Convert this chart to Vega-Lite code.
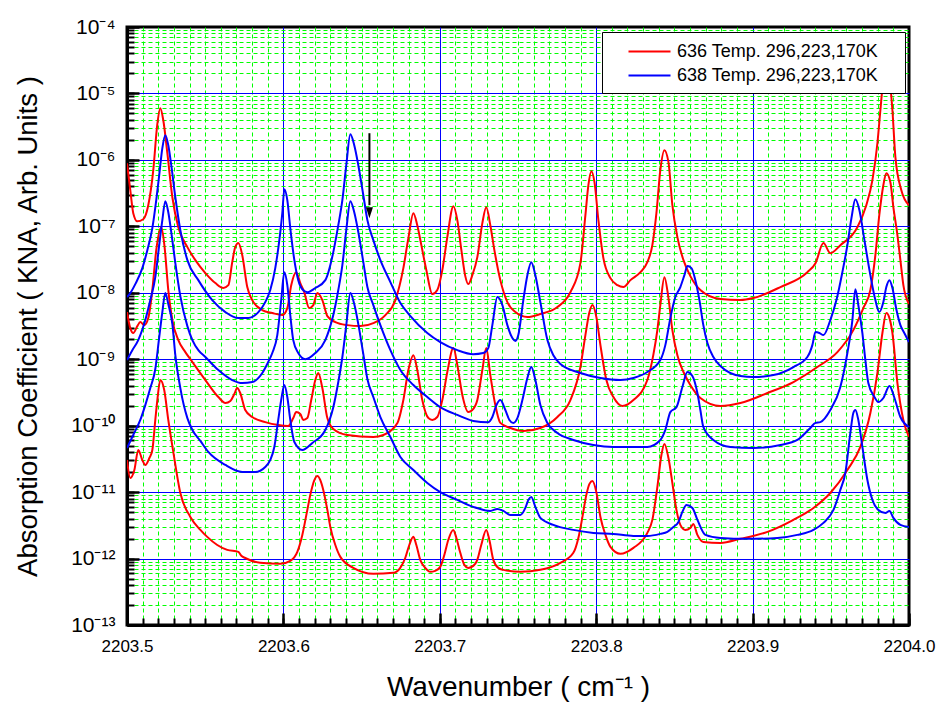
{
  "$schema": "https://vega.github.io/schema/vega-lite/v6.json",
  "width": 782,
  "height": 598,
  "autosize": "none",
  "padding": {"left": 127, "top": 27, "right": 40, "bottom": 91},
  "background": "white",
  "config": {
    "view": {"stroke": "black", "strokeWidth": 3},
    "font": "Liberation Sans"
  },
  "resolve": {"axis": {"x": "independent", "y": "independent"}},
  "layer": [
    {
      "data": {"values": [
        {"iso":"636","T":296,"x":2203.5,"y":8.9e-7},{"iso":"636","T":296,"x":2203.5021,"y":3.5e-7},{"iso":"636","T":296,"x":2203.504,"y":1.58e-7},{"iso":"636","T":296,"x":2203.5066,"y":1.19e-7},{"iso":"636","T":296,"x":2203.5104,"y":1.28e-7},{"iso":"636","T":296,"x":2203.5136,"y":2.08e-7},{"iso":"636","T":296,"x":2203.5168,"y":7.0e-7},{"iso":"636","T":296,"x":2203.5193,"y":3.32e-6},{"iso":"636","T":296,"x":2203.5213,"y":5.99e-6},{"iso":"636","T":296,"x":2203.5232,"y":3.95e-6},{"iso":"636","T":296,"x":2203.5258,"y":1.26e-6},{"iso":"636","T":296,"x":2203.529,"y":2.74e-7},{"iso":"636","T":296,"x":2203.5328,"y":9.7e-8},{"iso":"636","T":296,"x":2203.5386,"y":4.86e-8},{"iso":"636","T":296,"x":2203.5437,"y":3.1e-8},{"iso":"636","T":296,"x":2203.5501,"y":1.98e-8},{"iso":"636","T":296,"x":2203.5565,"y":1.4e-8},{"iso":"636","T":296,"x":2203.5616,"y":1.18e-8},{"iso":"636","T":296,"x":2203.5648,"y":1.3e-8},{"iso":"636","T":296,"x":2203.5673,"y":2.89e-8},{"iso":"636","T":296,"x":2203.5692,"y":4.86e-8},{"iso":"636","T":296,"x":2203.5712,"y":5.59e-8},{"iso":"636","T":296,"x":2203.5737,"y":3.68e-8},{"iso":"636","T":296,"x":2203.5769,"y":1.22e-8},{"iso":"636","T":296,"x":2203.5801,"y":7.76e-9},{"iso":"636","T":296,"x":2203.5865,"y":5.49e-9},{"iso":"636","T":296,"x":2203.5929,"y":4.95e-9},{"iso":"636","T":296,"x":2203.5993,"y":4.62e-9},{"iso":"636","T":296,"x":2203.6025,"y":5.89e-9},{"iso":"636","T":296,"x":2203.605,"y":1.3e-8},{"iso":"636","T":296,"x":2203.6082,"y":2.04e-8},{"iso":"636","T":296,"x":2203.6108,"y":1.4e-8},{"iso":"636","T":296,"x":2203.6133,"y":1.02e-8},{"iso":"636","T":296,"x":2203.6165,"y":5.89e-9},{"iso":"636","T":296,"x":2203.6191,"y":6.53e-9},{"iso":"636","T":296,"x":2203.6217,"y":9.9e-9},{"iso":"636","T":296,"x":2203.6249,"y":7.76e-9},{"iso":"636","T":296,"x":2203.6281,"y":4.46e-9},{"iso":"636","T":296,"x":2203.6332,"y":3.62e-9},{"iso":"636","T":296,"x":2203.6409,"y":3.26e-9},{"iso":"636","T":296,"x":2203.6492,"y":3.15e-9},{"iso":"636","T":296,"x":2203.6575,"y":3.5e-9},{"iso":"636","T":296,"x":2203.6652,"y":4.62e-9},{"iso":"636","T":296,"x":2203.6716,"y":7.76e-9},{"iso":"636","T":296,"x":2203.6767,"y":2.35e-8},{"iso":"636","T":296,"x":2203.6799,"y":6.64e-8},{"iso":"636","T":296,"x":2203.6831,"y":1.58e-7},{"iso":"636","T":296,"x":2203.6856,"y":1.04e-7},{"iso":"636","T":296,"x":2203.6882,"y":5.21e-8},{"iso":"636","T":296,"x":2203.6914,"y":2.19e-8},{"iso":"636","T":296,"x":2203.6952,"y":9.56e-9},{"iso":"636","T":296,"x":2203.6984,"y":1.1e-8},{"iso":"636","T":296,"x":2203.7016,"y":2.19e-8},{"iso":"636","T":296,"x":2203.7048,"y":6.88e-8},{"iso":"636","T":296,"x":2203.7087,"y":2.01e-7},{"iso":"636","T":296,"x":2203.7112,"y":1.24e-7},{"iso":"636","T":296,"x":2203.7138,"y":4.38e-8},{"iso":"636","T":296,"x":2203.7163,"y":1.78e-8},{"iso":"636","T":296,"x":2203.7182,"y":1.35e-8},{"iso":"636","T":296,"x":2203.7208,"y":1.84e-8},{"iso":"636","T":296,"x":2203.724,"y":3.44e-8},{"iso":"636","T":296,"x":2203.7272,"y":1.12e-7},{"iso":"636","T":296,"x":2203.7297,"y":1.94e-7},{"iso":"636","T":296,"x":2203.7323,"y":1.04e-7},{"iso":"636","T":296,"x":2203.7349,"y":4.38e-8},{"iso":"636","T":296,"x":2203.7387,"y":1.55e-8},{"iso":"636","T":296,"x":2203.7432,"y":7.24e-9},{"iso":"636","T":296,"x":2203.7483,"y":5.12e-9},{"iso":"636","T":296,"x":2203.756,"y":4.31e-9},{"iso":"636","T":296,"x":2203.7643,"y":4.78e-9},{"iso":"636","T":296,"x":2203.7752,"y":6.09e-9},{"iso":"636","T":296,"x":2203.7835,"y":1.02e-8},{"iso":"636","T":296,"x":2203.7899,"y":2.79e-8},{"iso":"636","T":296,"x":2203.7931,"y":1.47e-7},{"iso":"636","T":296,"x":2203.795,"y":4.16e-7},{"iso":"636","T":296,"x":2203.7969,"y":6.76e-7},{"iso":"636","T":296,"x":2203.7989,"y":4.62e-7},{"iso":"636","T":296,"x":2203.8014,"y":1.24e-7},{"iso":"636","T":296,"x":2203.8046,"y":3.32e-8},{"iso":"636","T":296,"x":2203.8091,"y":1.66e-8},{"iso":"636","T":296,"x":2203.8136,"y":1.3e-8},{"iso":"636","T":296,"x":2203.8174,"y":1.22e-8},{"iso":"636","T":296,"x":2203.8219,"y":1.55e-8},{"iso":"636","T":296,"x":2203.8283,"y":2.04e-8},{"iso":"636","T":296,"x":2203.8327,"y":2.89e-8},{"iso":"636","T":296,"x":2203.8359,"y":5.21e-8},{"iso":"636","T":296,"x":2203.8385,"y":1.58e-7},{"iso":"636","T":296,"x":2203.841,"y":7.0e-7},{"iso":"636","T":296,"x":2203.8436,"y":1.4e-6},{"iso":"636","T":296,"x":2203.8462,"y":9.23e-7},{"iso":"636","T":296,"x":2203.8487,"y":2.08e-7},{"iso":"636","T":296,"x":2203.8519,"y":6.88e-8},{"iso":"636","T":296,"x":2203.8558,"y":3.1e-8},{"iso":"636","T":296,"x":2203.8602,"y":1.78e-8},{"iso":"636","T":296,"x":2203.8666,"y":1.1e-8},{"iso":"636","T":296,"x":2203.8794,"y":8.04e-9},{"iso":"636","T":296,"x":2203.8922,"y":7.76e-9},{"iso":"636","T":296,"x":2203.9005,"y":8.32e-9},{"iso":"636","T":296,"x":2203.9178,"y":1.22e-8},{"iso":"636","T":296,"x":2203.935,"y":2.04e-8},{"iso":"636","T":296,"x":2203.9402,"y":2.79e-8},{"iso":"636","T":296,"x":2203.9453,"y":5.59e-8},{"iso":"636","T":296,"x":2203.9497,"y":3.95e-8},{"iso":"636","T":296,"x":2203.9561,"y":5.21e-8},{"iso":"636","T":296,"x":2203.967,"y":9.7e-8},{"iso":"636","T":296,"x":2203.9727,"y":2.08e-7},{"iso":"636","T":296,"x":2203.9766,"y":4.95e-7},{"iso":"636","T":296,"x":2203.9798,"y":1.78e-6},{"iso":"636","T":296,"x":2203.9817,"y":5.59e-6},{"iso":"636","T":296,"x":2203.9837,"y":1.88e-5},{"iso":"636","T":296,"x":2203.9855,"y":5.7e-5},{"iso":"636","T":296,"x":2203.9875,"y":1.88e-5},{"iso":"636","T":296,"x":2203.9894,"y":5.59e-6},{"iso":"636","T":296,"x":2203.9913,"y":1.1e-6},{"iso":"636","T":296,"x":2203.9951,"y":3.5e-7},{"iso":"636","T":296,"x":2204.0,"y":2.08e-7},

        {"iso":"636","T":223,"x":2203.5,"y":5.12e-9},{"iso":"636","T":223,"x":2203.5021,"y":2.94e-9},{"iso":"636","T":223,"x":2203.504,"y":2.48e-9},{"iso":"636","T":223,"x":2203.5066,"y":3.15e-9},{"iso":"636","T":223,"x":2203.5085,"y":3.62e-9},{"iso":"636","T":223,"x":2203.5111,"y":3.26e-9},{"iso":"636","T":223,"x":2203.5136,"y":4.16e-9},{"iso":"636","T":223,"x":2203.5162,"y":1.1e-8},{"iso":"636","T":223,"x":2203.5187,"y":4.38e-8},{"iso":"636","T":223,"x":2203.5219,"y":9.7e-8},{"iso":"636","T":223,"x":2203.5239,"y":5.21e-8},{"iso":"636","T":223,"x":2203.5264,"y":1.1e-8},{"iso":"636","T":223,"x":2203.529,"y":3.88e-9},{"iso":"636","T":223,"x":2203.5328,"y":1.94e-9},{"iso":"636","T":223,"x":2203.5373,"y":1.28e-9},{"iso":"636","T":223,"x":2203.5418,"y":9.08e-10},{"iso":"636","T":223,"x":2203.5501,"y":4.86e-10},{"iso":"636","T":223,"x":2203.5584,"y":2.7e-10},{"iso":"636","T":223,"x":2203.5629,"y":2.19e-10},{"iso":"636","T":223,"x":2203.5661,"y":2.35e-10},{"iso":"636","T":223,"x":2203.5686,"y":2.99e-10},{"iso":"636","T":223,"x":2203.5705,"y":3.68e-10},{"iso":"636","T":223,"x":2203.5724,"y":3.1e-10},{"iso":"636","T":223,"x":2203.5756,"y":1.72e-10},{"iso":"636","T":223,"x":2203.5801,"y":1.35e-10},{"iso":"636","T":223,"x":2203.5884,"y":1.13e-10},{"iso":"636","T":223,"x":2203.5967,"y":1.02e-10},{"iso":"636","T":223,"x":2203.6031,"y":9.9e-11},{"iso":"636","T":223,"x":2203.6063,"y":1.3e-10},{"iso":"636","T":223,"x":2203.6082,"y":1.6e-10},{"iso":"636","T":223,"x":2203.6108,"y":1.5e-10},{"iso":"636","T":223,"x":2203.6127,"y":1.22e-10},{"iso":"636","T":223,"x":2203.6153,"y":1.3e-10},{"iso":"636","T":223,"x":2203.6178,"y":2.43e-10},{"iso":"636","T":223,"x":2203.6204,"y":4.86e-10},{"iso":"636","T":223,"x":2203.6223,"y":6.2e-10},{"iso":"636","T":223,"x":2203.6249,"y":3.68e-10},{"iso":"636","T":223,"x":2203.6281,"y":1.3e-10},{"iso":"636","T":223,"x":2203.6319,"y":8.9e-11},{"iso":"636","T":223,"x":2203.6409,"y":7.24e-11},{"iso":"636","T":223,"x":2203.6575,"y":6.76e-11},{"iso":"636","T":223,"x":2203.6639,"y":7.24e-11},{"iso":"636","T":223,"x":2203.6729,"y":1.1e-10},{"iso":"636","T":223,"x":2203.6767,"y":2.43e-10},{"iso":"636","T":223,"x":2203.6799,"y":6.88e-10},{"iso":"636","T":223,"x":2203.6831,"y":1.15e-9},{"iso":"636","T":223,"x":2203.6856,"y":6.88e-10},{"iso":"636","T":223,"x":2203.6888,"y":2.43e-10},{"iso":"636","T":223,"x":2203.6927,"y":1.3e-10},{"iso":"636","T":223,"x":2203.6952,"y":1.22e-10},{"iso":"636","T":223,"x":2203.6984,"y":1.35e-10},{"iso":"636","T":223,"x":2203.7016,"y":2.43e-10},{"iso":"636","T":223,"x":2203.7048,"y":6.42e-10},{"iso":"636","T":223,"x":2203.7087,"y":1.47e-9},{"iso":"636","T":223,"x":2203.7112,"y":8.18e-10},{"iso":"636","T":223,"x":2203.7144,"y":2.89e-10},{"iso":"636","T":223,"x":2203.7182,"y":1.6e-10},{"iso":"636","T":223,"x":2203.7208,"y":1.72e-10},{"iso":"636","T":223,"x":2203.724,"y":2.43e-10},{"iso":"636","T":223,"x":2203.7272,"y":6.88e-10},{"iso":"636","T":223,"x":2203.7297,"y":1.47e-9},{"iso":"636","T":223,"x":2203.7323,"y":5.78e-10},{"iso":"636","T":223,"x":2203.7355,"y":2.04e-10},{"iso":"636","T":223,"x":2203.7387,"y":1.1e-10},{"iso":"636","T":223,"x":2203.7451,"y":9.23e-11},{"iso":"636","T":223,"x":2203.7534,"y":8.32e-11},{"iso":"636","T":223,"x":2203.7643,"y":9.23e-11},{"iso":"636","T":223,"x":2203.7752,"y":1.35e-10},{"iso":"636","T":223,"x":2203.7835,"y":2.43e-10},{"iso":"636","T":223,"x":2203.7899,"y":7.63e-10},{"iso":"636","T":223,"x":2203.7931,"y":2.31e-9},{"iso":"636","T":223,"x":2203.7957,"y":5.12e-9},{"iso":"636","T":223,"x":2203.7976,"y":6.53e-9},{"iso":"636","T":223,"x":2203.8001,"y":4.31e-9},{"iso":"636","T":223,"x":2203.8027,"y":1.63e-9},{"iso":"636","T":223,"x":2203.8065,"y":4.86e-10},{"iso":"636","T":223,"x":2203.811,"y":2.7e-10},{"iso":"636","T":223,"x":2203.8168,"y":1.98e-10},{"iso":"636","T":223,"x":2203.8238,"y":2.43e-10},{"iso":"636","T":223,"x":2203.8327,"y":4.86e-10},{"iso":"636","T":223,"x":2203.8365,"y":1.15e-9},{"iso":"636","T":223,"x":2203.8391,"y":2.74e-9},{"iso":"636","T":223,"x":2203.841,"y":6.53e-9},{"iso":"636","T":223,"x":2203.8436,"y":1.72e-8},{"iso":"636","T":223,"x":2203.8462,"y":8.32e-9},{"iso":"636","T":223,"x":2203.8487,"y":2.74e-9},{"iso":"636","T":223,"x":2203.8519,"y":1.15e-9},{"iso":"636","T":223,"x":2203.8558,"y":6.42e-10},{"iso":"636","T":223,"x":2203.8602,"y":4.09e-10},{"iso":"636","T":223,"x":2203.8666,"y":2.61e-10},{"iso":"636","T":223,"x":2203.8794,"y":1.98e-10},{"iso":"636","T":223,"x":2203.8922,"y":2.19e-10},{"iso":"636","T":223,"x":2203.9095,"y":3.1e-10},{"iso":"636","T":223,"x":2203.9261,"y":4.54e-10},{"iso":"636","T":223,"x":2203.9414,"y":7.63e-10},{"iso":"636","T":223,"x":2203.9542,"y":1.28e-9},{"iso":"636","T":223,"x":2203.9644,"y":2.74e-9},{"iso":"636","T":223,"x":2203.9708,"y":5.89e-9},{"iso":"636","T":223,"x":2203.9753,"y":1.1e-8},{"iso":"636","T":223,"x":2203.9785,"y":3.68e-8},{"iso":"636","T":223,"x":2203.981,"y":1.47e-7},{"iso":"636","T":223,"x":2203.9836,"y":4.16e-7},{"iso":"636","T":223,"x":2203.9855,"y":6.31e-7},{"iso":"636","T":223,"x":2203.9881,"y":4.62e-7},{"iso":"636","T":223,"x":2203.99,"y":1.94e-7},{"iso":"636","T":223,"x":2203.9926,"y":7.37e-8},{"iso":"636","T":223,"x":2203.9945,"y":3.1e-8},{"iso":"636","T":223,"x":2203.9964,"y":1.3e-8},{"iso":"636","T":223,"x":2204.0,"y":6.76e-9},

        {"iso":"636","T":170,"x":2203.5,"y":3.05e-11},{"iso":"636","T":170,"x":2203.5021,"y":1.63e-11},{"iso":"636","T":170,"x":2203.5047,"y":2.15e-11},{"iso":"636","T":170,"x":2203.5072,"y":4.31e-11},{"iso":"636","T":170,"x":2203.5098,"y":3.05e-11},{"iso":"636","T":170,"x":2203.5117,"y":2.56e-11},{"iso":"636","T":170,"x":2203.5143,"y":3.26e-11},{"iso":"636","T":170,"x":2203.5162,"y":4.31e-11},{"iso":"636","T":170,"x":2203.5181,"y":1.22e-10},{"iso":"636","T":170,"x":2203.5194,"y":2.43e-10},{"iso":"636","T":170,"x":2203.5213,"y":4.86e-10},{"iso":"636","T":170,"x":2203.5238,"y":3.44e-10},{"iso":"636","T":170,"x":2203.5264,"y":1.22e-10},{"iso":"636","T":170,"x":2203.5296,"y":4.02e-11},{"iso":"636","T":170,"x":2203.5341,"y":9.7e-12},{"iso":"636","T":170,"x":2203.5405,"y":4.23e-12},{"iso":"636","T":170,"x":2203.5469,"y":2.7e-12},{"iso":"636","T":170,"x":2203.5513,"y":2.12e-12},{"iso":"636","T":170,"x":2203.5577,"y":1.6e-12},{"iso":"636","T":170,"x":2203.5641,"y":1.35e-12},{"iso":"636","T":170,"x":2203.5712,"y":1.26e-12},{"iso":"636","T":170,"x":2203.5731,"y":1.1e-12},{"iso":"636","T":170,"x":2203.5756,"y":1.02e-12},{"iso":"636","T":170,"x":2203.5852,"y":8.62e-13},{"iso":"636","T":170,"x":2203.598,"y":8.32e-13},{"iso":"636","T":170,"x":2203.6044,"y":9.23e-13},{"iso":"636","T":170,"x":2203.6089,"y":1.26e-12},{"iso":"636","T":170,"x":2203.6121,"y":2.27e-12},{"iso":"636","T":170,"x":2203.6153,"y":5.4e-12},{"iso":"636","T":170,"x":2203.6172,"y":9.08e-12},{"iso":"636","T":170,"x":2203.6198,"y":1.52e-11},{"iso":"636","T":170,"x":2203.6217,"y":1.75e-11},{"iso":"636","T":170,"x":2203.6236,"y":1.52e-11},{"iso":"636","T":170,"x":2203.6255,"y":1.08e-11},{"iso":"636","T":170,"x":2203.6281,"y":5.4e-12},{"iso":"636","T":170,"x":2203.63,"y":2.99e-12},{"iso":"636","T":170,"x":2203.6332,"y":1.6e-12},{"iso":"636","T":170,"x":2203.6364,"y":1.06e-12},{"iso":"636","T":170,"x":2203.6447,"y":7.24e-13},{"iso":"636","T":170,"x":2203.6575,"y":5.89e-13},{"iso":"636","T":170,"x":2203.6703,"y":6.09e-13},{"iso":"636","T":170,"x":2203.6747,"y":7.24e-13},{"iso":"636","T":170,"x":2203.6779,"y":1.02e-12},{"iso":"636","T":170,"x":2203.6805,"y":1.6e-12},{"iso":"636","T":170,"x":2203.6831,"y":2.12e-12},{"iso":"636","T":170,"x":2203.685,"y":1.6e-12},{"iso":"636","T":170,"x":2203.6875,"y":9.56e-13},{"iso":"636","T":170,"x":2203.6907,"y":7.24e-13},{"iso":"636","T":170,"x":2203.6939,"y":6.31e-13},{"iso":"636","T":170,"x":2203.6971,"y":6.53e-13},{"iso":"636","T":170,"x":2203.7003,"y":7.5e-13},{"iso":"636","T":170,"x":2203.7029,"y":1.13e-12},{"iso":"636","T":170,"x":2203.7054,"y":1.9e-12},{"iso":"636","T":170,"x":2203.7086,"y":2.7e-12},{"iso":"636","T":170,"x":2203.7106,"y":2.04e-12},{"iso":"636","T":170,"x":2203.7131,"y":1.22e-12},{"iso":"636","T":170,"x":2203.7157,"y":8.04e-13},{"iso":"636","T":170,"x":2203.7182,"y":7.24e-13},{"iso":"636","T":170,"x":2203.7214,"y":7.76e-13},{"iso":"636","T":170,"x":2203.724,"y":9.56e-13},{"iso":"636","T":170,"x":2203.7265,"y":1.6e-12},{"iso":"636","T":170,"x":2203.7297,"y":2.7e-12},{"iso":"636","T":170,"x":2203.7317,"y":1.9e-12},{"iso":"636","T":170,"x":2203.7342,"y":9.56e-13},{"iso":"636","T":170,"x":2203.7374,"y":7.24e-13},{"iso":"636","T":170,"x":2203.7406,"y":6.76e-13},{"iso":"636","T":170,"x":2203.7515,"y":6.31e-13},{"iso":"636","T":170,"x":2203.7643,"y":6.76e-13},{"iso":"636","T":170,"x":2203.7771,"y":8.62e-13},{"iso":"636","T":170,"x":2203.7854,"y":1.22e-12},{"iso":"636","T":170,"x":2203.7886,"y":2.04e-12},{"iso":"636","T":170,"x":2203.7912,"y":4.23e-12},{"iso":"636","T":170,"x":2203.7937,"y":9.08e-12},{"iso":"636","T":170,"x":2203.7957,"y":1.33e-11},{"iso":"636","T":170,"x":2203.7976,"y":1.47e-11},{"iso":"636","T":170,"x":2203.8001,"y":1.0e-11},{"iso":"636","T":170,"x":2203.8027,"y":4.23e-12},{"iso":"636","T":170,"x":2203.8059,"y":2.27e-12},{"iso":"636","T":170,"x":2203.8091,"y":1.5e-12},{"iso":"636","T":170,"x":2203.8155,"y":1.18e-12},{"iso":"636","T":170,"x":2203.8238,"y":1.45e-12},{"iso":"636","T":170,"x":2203.8327,"y":2.43e-12},{"iso":"636","T":170,"x":2203.8359,"y":3.82e-12},{"iso":"636","T":170,"x":2203.8391,"y":1.19e-11},{"iso":"636","T":170,"x":2203.8417,"y":3.62e-11},{"iso":"636","T":170,"x":2203.8436,"y":5.3e-11},{"iso":"636","T":170,"x":2203.8462,"y":3.26e-11},{"iso":"636","T":170,"x":2203.8487,"y":1.37e-11},{"iso":"636","T":170,"x":2203.8513,"y":5.4e-12},{"iso":"636","T":170,"x":2203.8538,"y":3.21e-12},{"iso":"636","T":170,"x":2203.857,"y":2.7e-12},{"iso":"636","T":170,"x":2203.8602,"y":2.89e-12},{"iso":"636","T":170,"x":2203.8621,"y":3.32e-12},{"iso":"636","T":170,"x":2203.8647,"y":2.27e-12},{"iso":"636","T":170,"x":2203.8685,"y":1.78e-12},{"iso":"636","T":170,"x":2203.8794,"y":1.72e-12},{"iso":"636","T":170,"x":2203.8922,"y":1.98e-12},{"iso":"636","T":170,"x":2203.9095,"y":2.52e-12},{"iso":"636","T":170,"x":2203.9261,"y":3.82e-12},{"iso":"636","T":170,"x":2203.9389,"y":5.78e-12},{"iso":"636","T":170,"x":2203.9497,"y":9.7e-12},{"iso":"636","T":170,"x":2203.9606,"y":2.15e-11},{"iso":"636","T":170,"x":2203.9689,"y":4.78e-11},{"iso":"636","T":170,"x":2203.9753,"y":1.55e-10},{"iso":"636","T":170,"x":2203.9798,"y":6.2e-10},{"iso":"636","T":170,"x":2203.983,"y":2.48e-9},{"iso":"636","T":170,"x":2203.9855,"y":4.95e-9},{"iso":"636","T":170,"x":2203.9875,"y":4.16e-9},{"iso":"636","T":170,"x":2203.9894,"y":2.48e-9},{"iso":"636","T":170,"x":2203.9926,"y":4.38e-10},{"iso":"636","T":170,"x":2203.9964,"y":1.22e-10},{"iso":"636","T":170,"x":2204.0,"y":6.76e-11},

        {"iso":"638","T":296,"x":2203.5,"y":8.62e-9},{"iso":"638","T":296,"x":2203.5021,"y":9.9e-9},{"iso":"638","T":296,"x":2203.5053,"y":1.35e-8},{"iso":"638","T":296,"x":2203.5098,"y":2.35e-8},{"iso":"638","T":296,"x":2203.513,"y":4.38e-8},{"iso":"638","T":296,"x":2203.5162,"y":9.4e-8},{"iso":"638","T":296,"x":2203.5187,"y":2.48e-7},{"iso":"638","T":296,"x":2203.5206,"y":5.89e-7},{"iso":"638","T":296,"x":2203.5226,"y":1.5e-6},{"iso":"638","T":296,"x":2203.5245,"y":2.35e-6},{"iso":"638","T":296,"x":2203.5264,"y":1.66e-6},{"iso":"638","T":296,"x":2203.5283,"y":8.32e-7},{"iso":"638","T":296,"x":2203.5309,"y":2.74e-7},{"iso":"638","T":296,"x":2203.5341,"y":8.77e-8},{"iso":"638","T":296,"x":2203.5386,"y":3.1e-8},{"iso":"638","T":296,"x":2203.5456,"y":1.55e-8},{"iso":"638","T":296,"x":2203.5545,"y":7.76e-9},{"iso":"638","T":296,"x":2203.5629,"y":5.12e-9},{"iso":"638","T":296,"x":2203.5712,"y":4.16e-9},{"iso":"638","T":296,"x":2203.5776,"y":4.16e-9},{"iso":"638","T":296,"x":2203.584,"y":5.12e-9},{"iso":"638","T":296,"x":2203.5884,"y":7.24e-9},{"iso":"638","T":296,"x":2203.5916,"y":1.1e-8},{"iso":"638","T":296,"x":2203.5948,"y":2.35e-8},{"iso":"638","T":296,"x":2203.5974,"y":6.2e-8},{"iso":"638","T":296,"x":2203.5993,"y":1.58e-7},{"iso":"638","T":296,"x":2203.6006,"y":3.62e-7},{"iso":"638","T":296,"x":2203.6025,"y":2.48e-7},{"iso":"638","T":296,"x":2203.6044,"y":9.4e-8},{"iso":"638","T":296,"x":2203.607,"y":3.1e-8},{"iso":"638","T":296,"x":2203.6095,"y":1.55e-8},{"iso":"638","T":296,"x":2203.6121,"y":1.13e-8},{"iso":"638","T":296,"x":2203.6153,"y":1.02e-8},{"iso":"638","T":296,"x":2203.6204,"y":1.18e-8},{"iso":"638","T":296,"x":2203.6268,"y":1.55e-8},{"iso":"638","T":296,"x":2203.6319,"y":4.09e-8},{"iso":"638","T":296,"x":2203.6351,"y":1.04e-7},{"iso":"638","T":296,"x":2203.6377,"y":2.48e-7},{"iso":"638","T":296,"x":2203.6402,"y":8.32e-7},{"iso":"638","T":296,"x":2203.6428,"y":2.43e-6},{"iso":"638","T":296,"x":2203.6453,"y":1.66e-6},{"iso":"638","T":296,"x":2203.6479,"y":8.32e-7},{"iso":"638","T":296,"x":2203.6511,"y":2.94e-7},{"iso":"638","T":296,"x":2203.6537,"y":1.24e-7},{"iso":"638","T":296,"x":2203.6575,"y":6.2e-8},{"iso":"638","T":296,"x":2203.662,"y":3.1e-8},{"iso":"638","T":296,"x":2203.6684,"y":1.45e-8},{"iso":"638","T":296,"x":2203.6748,"y":7.0e-9},{"iso":"638","T":296,"x":2203.6812,"y":4.46e-9},{"iso":"638","T":296,"x":2203.692,"y":2.48e-9},{"iso":"638","T":296,"x":2203.7003,"y":1.81e-9},{"iso":"638","T":296,"x":2203.7112,"y":1.37e-9},{"iso":"638","T":296,"x":2203.7214,"y":1.19e-9},{"iso":"638","T":296,"x":2203.7278,"y":1.24e-9},{"iso":"638","T":296,"x":2203.731,"y":1.47e-9},{"iso":"638","T":296,"x":2203.7336,"y":3.26e-9},{"iso":"638","T":296,"x":2203.7368,"y":8.62e-9},{"iso":"638","T":296,"x":2203.74,"y":6.53e-9},{"iso":"638","T":296,"x":2203.7432,"y":3.26e-9},{"iso":"638","T":296,"x":2203.7464,"y":2.08e-9},{"iso":"638","T":296,"x":2203.7483,"y":1.88e-9},{"iso":"638","T":296,"x":2203.7502,"y":2.31e-9},{"iso":"638","T":296,"x":2203.7534,"y":7.76e-9},{"iso":"638","T":296,"x":2203.756,"y":1.84e-8},{"iso":"638","T":296,"x":2203.7585,"y":2.89e-8},{"iso":"638","T":296,"x":2203.7611,"y":1.84e-8},{"iso":"638","T":296,"x":2203.7643,"y":7.24e-9},{"iso":"638","T":296,"x":2203.7688,"y":1.94e-9},{"iso":"638","T":296,"x":2203.7726,"y":1.15e-9},{"iso":"638","T":296,"x":2203.7771,"y":8.47e-10},{"iso":"638","T":296,"x":2203.7899,"y":6.2e-10},{"iso":"638","T":296,"x":2203.8027,"y":5.21e-10},{"iso":"638","T":296,"x":2203.8155,"y":4.86e-10},{"iso":"638","T":296,"x":2203.8238,"y":5.21e-10},{"iso":"638","T":296,"x":2203.8327,"y":6.42e-10},{"iso":"638","T":296,"x":2203.841,"y":9.7e-10},{"iso":"638","T":296,"x":2203.8442,"y":1.63e-9},{"iso":"638","T":296,"x":2203.8474,"y":4.16e-9},{"iso":"638","T":296,"x":2203.8506,"y":8.62e-9},{"iso":"638","T":296,"x":2203.8538,"y":1.22e-8},{"iso":"638","T":296,"x":2203.8564,"y":1.84e-8},{"iso":"638","T":296,"x":2203.8583,"y":2.52e-8},{"iso":"638","T":296,"x":2203.8609,"y":2.35e-8},{"iso":"638","T":296,"x":2203.8634,"y":1.55e-8},{"iso":"638","T":296,"x":2203.866,"y":7.76e-9},{"iso":"638","T":296,"x":2203.8685,"y":3.26e-9},{"iso":"638","T":296,"x":2203.8711,"y":1.75e-9},{"iso":"638","T":296,"x":2203.8749,"y":1.08e-9},{"iso":"638","T":296,"x":2203.8794,"y":7.9e-10},{"iso":"638","T":296,"x":2203.8922,"y":5.59e-10},{"iso":"638","T":296,"x":2203.9005,"y":5.4e-10},{"iso":"638","T":296,"x":2203.9133,"y":5.78e-10},{"iso":"638","T":296,"x":2203.9261,"y":7.63e-10},{"iso":"638","T":296,"x":2203.935,"y":1.08e-9},{"iso":"638","T":296,"x":2203.9382,"y":1.63e-9},{"iso":"638","T":296,"x":2203.9402,"y":2.56e-9},{"iso":"638","T":296,"x":2203.9427,"y":2.48e-9},{"iso":"638","T":296,"x":2203.9453,"y":2.31e-9},{"iso":"638","T":296,"x":2203.9497,"y":3.88e-9},{"iso":"638","T":296,"x":2203.9536,"y":7.76e-9},{"iso":"638","T":296,"x":2203.9574,"y":2.04e-8},{"iso":"638","T":296,"x":2203.9606,"y":5.21e-8},{"iso":"638","T":296,"x":2203.9632,"y":1.33e-7},{"iso":"638","T":296,"x":2203.9657,"y":2.56e-7},{"iso":"638","T":296,"x":2203.9683,"y":1.75e-7},{"iso":"638","T":296,"x":2203.9715,"y":6.2e-8},{"iso":"638","T":296,"x":2203.9753,"y":1.84e-8},{"iso":"638","T":296,"x":2203.9785,"y":7.76e-9},{"iso":"638","T":296,"x":2203.981,"y":5.12e-9},{"iso":"638","T":296,"x":2203.9836,"y":7.24e-9},{"iso":"638","T":296,"x":2203.9855,"y":1.22e-8},{"iso":"638","T":296,"x":2203.9875,"y":1.55e-8},{"iso":"638","T":296,"x":2203.9894,"y":1.18e-8},{"iso":"638","T":296,"x":2203.992,"y":5.49e-9},{"iso":"638","T":296,"x":2203.9945,"y":3.26e-9},{"iso":"638","T":296,"x":2203.997,"y":2.48e-9},{"iso":"638","T":296,"x":2204.0,"y":1.81e-9},

        {"iso":"638","T":223,"x":2203.5,"y":9.7e-10},{"iso":"638","T":223,"x":2203.5034,"y":1.37e-9},{"iso":"638","T":223,"x":2203.5072,"y":1.94e-9},{"iso":"638","T":223,"x":2203.5117,"y":3.88e-9},{"iso":"638","T":223,"x":2203.5149,"y":7.76e-9},{"iso":"638","T":223,"x":2203.5181,"y":1.72e-8},{"iso":"638","T":223,"x":2203.5206,"y":5.21e-8},{"iso":"638","T":223,"x":2203.5226,"y":1.24e-7},{"iso":"638","T":223,"x":2203.5245,"y":2.39e-7},{"iso":"638","T":223,"x":2203.5264,"y":1.63e-7},{"iso":"638","T":223,"x":2203.5283,"y":8.18e-8},{"iso":"638","T":223,"x":2203.5309,"y":2.79e-8},{"iso":"638","T":223,"x":2203.5341,"y":8.9e-9},{"iso":"638","T":223,"x":2203.5386,"y":3.15e-9},{"iso":"638","T":223,"x":2203.5418,"y":1.94e-9},{"iso":"638","T":223,"x":2203.5456,"y":1.37e-9},{"iso":"638","T":223,"x":2203.5501,"y":1.08e-9},{"iso":"638","T":223,"x":2203.5584,"y":6.88e-10},{"iso":"638","T":223,"x":2203.5673,"y":4.86e-10},{"iso":"638","T":223,"x":2203.5737,"y":4.38e-10},{"iso":"638","T":223,"x":2203.5801,"y":4.54e-10},{"iso":"638","T":223,"x":2203.5865,"y":6.2e-10},{"iso":"638","T":223,"x":2203.5903,"y":9.08e-10},{"iso":"638","T":223,"x":2203.5929,"y":1.24e-9},{"iso":"638","T":223,"x":2203.5961,"y":2.31e-9},{"iso":"638","T":223,"x":2203.5986,"y":7.76e-9},{"iso":"638","T":223,"x":2203.6006,"y":2.04e-8},{"iso":"638","T":223,"x":2203.6025,"y":1.3e-8},{"iso":"638","T":223,"x":2203.6044,"y":4.62e-9},{"iso":"638","T":223,"x":2203.6063,"y":1.94e-9},{"iso":"638","T":223,"x":2203.6095,"y":1.24e-9},{"iso":"638","T":223,"x":2203.614,"y":1.0e-9},{"iso":"638","T":223,"x":2203.6204,"y":1.24e-9},{"iso":"638","T":223,"x":2203.6268,"y":1.94e-9},{"iso":"638","T":223,"x":2203.6319,"y":4.62e-9},{"iso":"638","T":223,"x":2203.6351,"y":1.1e-8},{"iso":"638","T":223,"x":2203.6377,"y":2.61e-8},{"iso":"638","T":223,"x":2203.6402,"y":8.77e-8},{"iso":"638","T":223,"x":2203.6428,"y":2.39e-7},{"iso":"638","T":223,"x":2203.6453,"y":1.63e-7},{"iso":"638","T":223,"x":2203.6479,"y":8.18e-8},{"iso":"638","T":223,"x":2203.6511,"y":2.89e-8},{"iso":"638","T":223,"x":2203.6537,"y":1.22e-8},{"iso":"638","T":223,"x":2203.6575,"y":6.53e-9},{"iso":"638","T":223,"x":2203.662,"y":3.26e-9},{"iso":"638","T":223,"x":2203.6684,"y":1.37e-9},{"iso":"638","T":223,"x":2203.6748,"y":6.88e-10},{"iso":"638","T":223,"x":2203.6831,"y":4.09e-10},{"iso":"638","T":223,"x":2203.692,"y":2.7e-10},{"iso":"638","T":223,"x":2203.7003,"y":1.9e-10},{"iso":"638","T":223,"x":2203.7112,"y":1.45e-10},{"iso":"638","T":223,"x":2203.7214,"y":1.18e-10},{"iso":"638","T":223,"x":2203.731,"y":1.13e-10},{"iso":"638","T":223,"x":2203.7336,"y":1.35e-10},{"iso":"638","T":223,"x":2203.7362,"y":2.04e-10},{"iso":"638","T":223,"x":2203.7387,"y":2.43e-10},{"iso":"638","T":223,"x":2203.7419,"y":1.72e-10},{"iso":"638","T":223,"x":2203.7445,"y":1.22e-10},{"iso":"638","T":223,"x":2203.747,"y":1.1e-10},{"iso":"638","T":223,"x":2203.7496,"y":1.3e-10},{"iso":"638","T":223,"x":2203.7528,"y":2.43e-10},{"iso":"638","T":223,"x":2203.756,"y":5.21e-10},{"iso":"638","T":223,"x":2203.7585,"y":7.63e-10},{"iso":"638","T":223,"x":2203.7611,"y":4.86e-10},{"iso":"638","T":223,"x":2203.7643,"y":2.04e-10},{"iso":"638","T":223,"x":2203.7688,"y":1.1e-10},{"iso":"638","T":223,"x":2203.7752,"y":7.76e-11},{"iso":"638","T":223,"x":2203.7854,"y":6.09e-11},{"iso":"638","T":223,"x":2203.7982,"y":5.12e-11},{"iso":"638","T":223,"x":2203.811,"y":4.78e-11},{"iso":"638","T":223,"x":2203.8238,"y":4.78e-11},{"iso":"638","T":223,"x":2203.8327,"y":4.78e-11},{"iso":"638","T":223,"x":2203.841,"y":6.09e-11},{"iso":"638","T":223,"x":2203.8442,"y":8.62e-11},{"iso":"638","T":223,"x":2203.8474,"y":1.6e-10},{"iso":"638","T":223,"x":2203.8513,"y":1.9e-10},{"iso":"638","T":223,"x":2203.8551,"y":3.82e-10},{"iso":"638","T":223,"x":2203.8583,"y":6.42e-10},{"iso":"638","T":223,"x":2203.8615,"y":5.59e-10},{"iso":"638","T":223,"x":2203.8647,"y":3.1e-10},{"iso":"638","T":223,"x":2203.8666,"y":1.72e-10},{"iso":"638","T":223,"x":2203.8685,"y":9.56e-11},{"iso":"638","T":223,"x":2203.8749,"y":6.09e-11},{"iso":"638","T":223,"x":2203.8858,"y":4.78e-11},{"iso":"638","T":223,"x":2203.9005,"y":4.62e-11},{"iso":"638","T":223,"x":2203.9178,"y":5.12e-11},{"iso":"638","T":223,"x":2203.9286,"y":6.09e-11},{"iso":"638","T":223,"x":2203.9369,"y":9.23e-11},{"iso":"638","T":223,"x":2203.9402,"y":1.1e-10},{"iso":"638","T":223,"x":2203.9433,"y":1.13e-10},{"iso":"638","T":223,"x":2203.9497,"y":1.72e-10},{"iso":"638","T":223,"x":2203.9561,"y":3.82e-10},{"iso":"638","T":223,"x":2203.9606,"y":1.24e-9},{"iso":"638","T":223,"x":2203.9638,"y":3.88e-9},{"iso":"638","T":223,"x":2203.9657,"y":1.13e-8},{"iso":"638","T":223,"x":2203.9676,"y":6.53e-9},{"iso":"638","T":223,"x":2203.9702,"y":2.48e-9},{"iso":"638","T":223,"x":2203.9721,"y":9.7e-10},{"iso":"638","T":223,"x":2203.974,"y":4.38e-10},{"iso":"638","T":223,"x":2203.9779,"y":2.7e-10},{"iso":"638","T":223,"x":2203.9804,"y":2.27e-10},{"iso":"638","T":223,"x":2203.9836,"y":2.61e-10},{"iso":"638","T":223,"x":2203.9875,"y":3.95e-10},{"iso":"638","T":223,"x":2203.9907,"y":2.61e-10},{"iso":"638","T":223,"x":2203.9945,"y":1.35e-10},{"iso":"638","T":223,"x":2204.0,"y":9.56e-11},

        {"iso":"638","T":170,"x":2203.5,"y":4.62e-11},{"iso":"638","T":170,"x":2203.504,"y":7.24e-11},{"iso":"638","T":170,"x":2203.5085,"y":1.22e-10},{"iso":"638","T":170,"x":2203.5117,"y":2.04e-10},{"iso":"638","T":170,"x":2203.5149,"y":3.68e-10},{"iso":"638","T":170,"x":2203.5181,"y":7.12e-10},{"iso":"638","T":170,"x":2203.5206,"y":2.15e-9},{"iso":"638","T":170,"x":2203.5226,"y":5.12e-9},{"iso":"638","T":170,"x":2203.5245,"y":9.9e-9},{"iso":"638","T":170,"x":2203.5264,"y":6.76e-9},{"iso":"638","T":170,"x":2203.529,"y":3.38e-9},{"iso":"638","T":170,"x":2203.5309,"y":1.15e-9},{"iso":"638","T":170,"x":2203.5341,"y":3.68e-10},{"iso":"638","T":170,"x":2203.5386,"y":1.3e-10},{"iso":"638","T":170,"x":2203.5418,"y":8.62e-11},{"iso":"638","T":170,"x":2203.5469,"y":5.89e-11},{"iso":"638","T":170,"x":2203.552,"y":4.02e-11},{"iso":"638","T":170,"x":2203.5629,"y":2.56e-11},{"iso":"638","T":170,"x":2203.5737,"y":2.01e-11},{"iso":"638","T":170,"x":2203.582,"y":2.01e-11},{"iso":"638","T":170,"x":2203.5884,"y":2.39e-11},{"iso":"638","T":170,"x":2203.5916,"y":3.05e-11},{"iso":"638","T":170,"x":2203.5942,"y":4.78e-11},{"iso":"638","T":170,"x":2203.5967,"y":1.22e-10},{"iso":"638","T":170,"x":2203.5986,"y":2.43e-10},{"iso":"638","T":170,"x":2203.6006,"y":4.09e-10},{"iso":"638","T":170,"x":2203.6025,"y":2.7e-10},{"iso":"638","T":170,"x":2203.6044,"y":1.22e-10},{"iso":"638","T":170,"x":2203.607,"y":5.68e-11},{"iso":"638","T":170,"x":2203.6121,"y":4.31e-11},{"iso":"638","T":170,"x":2203.6185,"y":5.49e-11},{"iso":"638","T":170,"x":2203.6268,"y":8.62e-11},{"iso":"638","T":170,"x":2203.6319,"y":1.9e-10},{"iso":"638","T":170,"x":2203.6351,"y":4.54e-10},{"iso":"638","T":170,"x":2203.6377,"y":1.08e-9},{"iso":"638","T":170,"x":2203.6402,"y":3.26e-9},{"iso":"638","T":170,"x":2203.6428,"y":9.9e-9},{"iso":"638","T":170,"x":2203.6453,"y":6.76e-9},{"iso":"638","T":170,"x":2203.6479,"y":3.38e-9},{"iso":"638","T":170,"x":2203.6511,"y":1.19e-9},{"iso":"638","T":170,"x":2203.6537,"y":5.03e-10},{"iso":"638","T":170,"x":2203.6575,"y":2.7e-10},{"iso":"638","T":170,"x":2203.662,"y":1.35e-10},{"iso":"638","T":170,"x":2203.6684,"y":6.76e-11},{"iso":"638","T":170,"x":2203.6748,"y":3.38e-11},{"iso":"638","T":170,"x":2203.6831,"y":2.15e-11},{"iso":"638","T":170,"x":2203.692,"y":1.37e-11},{"iso":"638","T":170,"x":2203.7003,"y":1.0e-11},{"iso":"638","T":170,"x":2203.7112,"y":7.63e-12},{"iso":"638","T":170,"x":2203.7214,"y":5.99e-12},{"iso":"638","T":170,"x":2203.7323,"y":5.21e-12},{"iso":"638","T":170,"x":2203.7368,"y":5.59e-12},{"iso":"638","T":170,"x":2203.7406,"y":5.21e-12},{"iso":"638","T":170,"x":2203.7451,"y":4.54e-12},{"iso":"638","T":170,"x":2203.7515,"y":4.54e-12},{"iso":"638","T":170,"x":2203.7547,"y":5.78e-12},{"iso":"638","T":170,"x":2203.7566,"y":7.63e-12},{"iso":"638","T":170,"x":2203.7585,"y":8.47e-12},{"iso":"638","T":170,"x":2203.7611,"y":5.99e-12},{"iso":"638","T":170,"x":2203.7643,"y":4.09e-12},{"iso":"638","T":170,"x":2203.7726,"y":3.21e-12},{"iso":"638","T":170,"x":2203.7854,"y":2.7e-12},{"iso":"638","T":170,"x":2203.7982,"y":2.43e-12},{"iso":"638","T":170,"x":2203.811,"y":2.35e-12},{"iso":"638","T":170,"x":2203.8238,"y":2.19e-12},{"iso":"638","T":170,"x":2203.8327,"y":2.19e-12},{"iso":"638","T":170,"x":2203.841,"y":2.35e-12},{"iso":"638","T":170,"x":2203.8455,"y":2.52e-12},{"iso":"638","T":170,"x":2203.8494,"y":2.99e-12},{"iso":"638","T":170,"x":2203.8526,"y":3.56e-12},{"iso":"638","T":170,"x":2203.8551,"y":5.03e-12},{"iso":"638","T":170,"x":2203.8577,"y":6.42e-12},{"iso":"638","T":170,"x":2203.8615,"y":5.78e-12},{"iso":"638","T":170,"x":2203.8647,"y":3.82e-12},{"iso":"638","T":170,"x":2203.8698,"y":2.27e-12},{"iso":"638","T":170,"x":2203.8794,"y":2.04e-12},{"iso":"638","T":170,"x":2203.8967,"y":1.98e-12},{"iso":"638","T":170,"x":2203.9159,"y":2.04e-12},{"iso":"638","T":170,"x":2203.9286,"y":2.27e-12},{"iso":"638","T":170,"x":2203.9389,"y":2.7e-12},{"iso":"638","T":170,"x":2203.9453,"y":3.44e-12},{"iso":"638","T":170,"x":2203.9517,"y":5.4e-12},{"iso":"638","T":170,"x":2203.9561,"y":1.08e-11},{"iso":"638","T":170,"x":2203.9593,"y":1.94e-11},{"iso":"638","T":170,"x":2203.9625,"y":7.76e-11},{"iso":"638","T":170,"x":2203.9644,"y":1.55e-10},{"iso":"638","T":170,"x":2203.9657,"y":1.72e-10},{"iso":"638","T":170,"x":2203.9676,"y":1.22e-10},{"iso":"638","T":170,"x":2203.9702,"y":4.78e-11},{"iso":"638","T":170,"x":2203.9734,"y":1.52e-11},{"iso":"638","T":170,"x":2203.9766,"y":7.63e-12},{"iso":"638","T":170,"x":2203.9804,"y":5.4e-12},{"iso":"638","T":170,"x":2203.9849,"y":4.86e-12},{"iso":"638","T":170,"x":2203.9875,"y":5.21e-12},{"iso":"638","T":170,"x":2203.99,"y":4.09e-12},{"iso":"638","T":170,"x":2203.9945,"y":3.21e-12},{"iso":"638","T":170,"x":2204.0,"y":2.99e-12}
      ]},
      "mark": {"type": "line", "strokeWidth": 2, "clip": true, "interpolate": "monotone"},
      "encoding": {
        "x": {
          "field": "x", "type": "quantitative",
          "scale": {"domain": [2203.5, 2204.0], "nice": false, "zero": false},
          "axis": {
            "orient": "bottom",
            "title": "Wavenumber ( cm⁻¹ )",
            "titleFont": "Liberation Sans", "titleFontSize": 28, "titleFontWeight": "normal", "titleColor": "black", "titlePadding": 19,
            "values": [2203.5,2203.51,2203.52,2203.53,2203.54,2203.55,2203.56,2203.57,2203.58,2203.59,2203.6,2203.61,2203.62,2203.63,2203.64,2203.65,2203.66,2203.67,2203.68,2203.69,2203.7,2203.71,2203.72,2203.73,2203.74,2203.75,2203.76,2203.77,2203.78,2203.79,2203.8,2203.81,2203.82,2203.83,2203.84,2203.85,2203.86,2203.87,2203.88,2203.89,2203.9,2203.91,2203.92,2203.93,2203.94,2203.95,2203.96,2203.97,2203.98,2203.99,2204.0],
            "labelExpr": "abs(datum.value*10 - round(datum.value*10)) < 0.001 ? format(datum.value, '.1f') : ''",
            "labelFont": "Liberation Sans", "labelFontSize": 17, "labelColor": "black", "labelPadding": 20,
            "labelOverlap": false, "labelFlush": false,
            "grid": true,
            "gridColor": {"condition": {"test": "abs(datum.value*10 - round(datum.value*10)) < 0.001", "value": "#0000ff"}, "value": "#00ff00"},
            "gridDash": {"condition": {"test": "abs(datum.value*10 - round(datum.value*10)) < 0.001", "value": []}, "value": [4, 3]},
            "gridOpacity": {"condition": {"test": "datum.value < 2203.505 || datum.value > 2203.995", "value": 0}, "value": 1},
            "gridWidth": 1,
            "ticks": true, "tickColor": "black", "tickSize": -7, "tickWidth": 2,
            "domainColor": "black", "domainWidth": 3
          }
        },
        "y": {
          "field": "y", "type": "quantitative",
          "scale": {"type": "log", "domain": [1e-13, 1e-4], "nice": false},
          "axis": {
            "orient": "left",
            "title": "Absorption Coefficient ( KNA, Arb. Units )",
            "titleFont": "Liberation Sans", "titleFontSize": 27.5, "titleFontWeight": "normal", "titleColor": "black", "titlePadding": 28,
            "values": [1e-13,2e-13,3e-13,4e-13,5e-13,6e-13,7e-13,8e-13,9e-13,1e-12,2e-12,3e-12,4e-12,5e-12,6e-12,7e-12,8e-12,9e-12,1e-11,2e-11,3e-11,4e-11,5e-11,6e-11,7e-11,8e-11,9e-11,1e-10,2e-10,3e-10,4e-10,5e-10,6e-10,7e-10,8e-10,9e-10,1e-9,2e-9,3e-9,4e-9,5e-9,6e-9,7e-9,8e-9,9e-9,1e-8,2e-8,3e-8,4e-8,5e-8,6e-8,7e-8,8e-8,9e-8,1e-7,2e-7,3e-7,4e-7,5e-7,6e-7,7e-7,8e-7,9e-7,1e-6,2e-6,3e-6,4e-6,5e-6,6e-6,7e-6,8e-6,9e-6,1e-5,2e-5,3e-5,4e-5,5e-5,6e-5,7e-5,8e-5,9e-5,1e-4],
            "labelExpr": "abs(log(datum.value)/LN10 - round(log(datum.value)/LN10)) < 0.001 ? '10⁻' + (round(-log(datum.value)/LN10) >= 10 ? '¹' : '') + substring('⁰¹²³⁴⁵⁶⁷⁸⁹', round(-log(datum.value)/LN10) % 10, round(-log(datum.value)/LN10) % 10 + 1) : ''",
            "labelFont": "Liberation Sans", "labelFontSize": 21, "labelColor": "black", "labelPadding": 19,
            "labelOverlap": false, "labelFlush": false,
            "grid": true,
            "gridColor": {"condition": {"test": "abs(log(datum.value)/LN10 - round(log(datum.value)/LN10)) < 0.001", "value": "#0000ff"}, "value": "#00ff00"},
            "gridDash": {"condition": {"test": "abs(log(datum.value)/LN10 - round(log(datum.value)/LN10)) < 0.001", "value": []}, "value": [4, 3]},
            "gridOpacity": {"condition": {"test": "datum.value < 1.5e-13 || datum.value > 0.95e-4", "value": 0}, "value": 1},
            "gridWidth": 1,
            "ticks": true, "tickColor": "black", "tickSize": -7, "tickWidth": 2,
            "domainColor": "black", "domainWidth": 3
          }
        },
        "color": {
          "field": "iso", "type": "nominal",
          "scale": {"domain": ["636", "638"], "range": ["#ff0000", "#0000ff"]},
          "legend": {
            "orient": "none", "legendX": 475, "legendY": 5,
            "title": null,
            "labelExpr": "datum.label + ' Temp. 296,223,170K'",
            "labelLimit": 400,
            "symbolType": "M-2,0L2,0M23.1,0", "symbolSize": 441, "symbolStrokeWidth": 2,
            "labelFont": "Liberation Sans", "labelFontSize": 18, "labelColor": "black",
            "fillColor": "white", "strokeColor": "black", "padding": 8,
            "rowPadding": 3, "symbolOffset": 28, "labelOffset": 16
          }
        },
        "detail": {"field": "T", "type": "nominal"}
      }
    },
    {
      "data": {"values": [{"x": 2203.655, "y": 2.52e-6, "y2": 2.08e-7}]},
      "mark": {"type": "rule", "color": "black", "strokeWidth": 2},
      "encoding": {
        "x": {
          "field": "x", "type": "quantitative",
          "scale": {"domain": [2203.5, 2204.0], "nice": false, "zero": false},
          "axis": {
            "orient": "bottom", "title": null, "labels": false, "grid": false, "domain": false,
            "values": [2203.5, 2203.6, 2203.7, 2203.8, 2203.9, 2204.0],
            "ticks": true, "tickColor": "black", "tickSize": -12, "tickWidth": 2.5
          }
        },
        "y": {
          "field": "y", "type": "quantitative",
          "scale": {"type": "log", "domain": [1e-13, 1e-4], "nice": false},
          "axis": {
            "orient": "left", "title": null, "labels": false, "grid": false, "domain": false,
            "values": [1e-13, 1e-12, 1e-11, 1e-10, 1e-9, 1e-8, 1e-7, 1e-6, 1e-5, 1e-4],
            "ticks": true, "tickColor": "black", "tickSize": -12, "tickWidth": 2.5
          }
        },
        "y2": {"field": "y2"}
      }
    },
    {
      "data": {"values": [{"x": 2203.655, "y": 1.6e-7}]},
      "mark": {"type": "point", "shape": "M-0.64,-1L0.64,-1L0,1Z", "size": 121, "filled": true, "color": "black", "opacity": 1},
      "encoding": {
        "x": {"field": "x", "type": "quantitative", "scale": {"domain": [2203.5, 2204.0], "nice": false, "zero": false}, "axis": null},
        "y": {"field": "y", "type": "quantitative", "scale": {"type": "log", "domain": [1e-13, 1e-4], "nice": false}, "axis": null}
      }
    }
  ]
}
